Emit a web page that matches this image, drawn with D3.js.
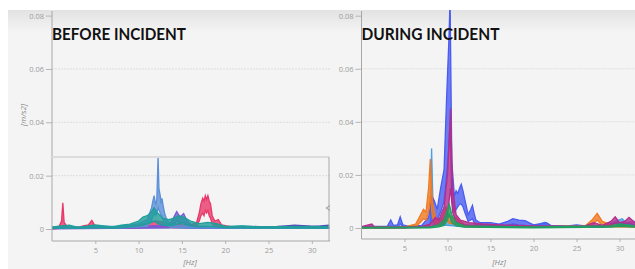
<!DOCTYPE html>
<html>
<head>
<meta charset="utf-8">
<script src="https://cdn.jsdelivr.net/npm/d3@7"></script>
<style>
  body { margin: 0; background: #fff; }
  svg { display: block; }
  .tick text { fill: #9c9c9c; font-family: "Open Sans", sans-serif; font-size: 7.5px; }
  .tick line { stroke: #b5b5b5; }
</style>
</head>
<body>
<div id="chart"></div>
<script>
// Tick values
var yTicks = [0, 0.02, 0.04, 0.06, 0.08];
var xTicks = [5, 10, 15, 20, 25, 30];

// BEFORE INCIDENT series: [Hz, low trace, high trace]
var beforeNavy = [[0,0.0002,0.0006],[2,0.0003,0.0007],[4,0.0002,0.0005],[6,0.0002,0.0006],[8,0.0003,0.0008],[10,0.0004,0.0010],[12,0.0004,0.0012],[14,0.0004,0.0010],[16,0.0003,0.0009],[18,0.0003,0.0008],[20,0.0003,0.0008],[22,0.0004,0.0010],[24,0.0004,0.0009],[26,0.0004,0.0010],[27,0.0005,0.0012],[28,0.0006,0.0014],[29,0.0006,0.0013],[30,0.0005,0.0011],[31,0.0005,0.0012],[32,0.0006,0.0014]];
var beforeRed = [[0,0,0.0005],[0.8,0.0002,0.0008],[1.1,0.0005,0.0030],[1.25,0.001,0.0098],[1.4,0.0005,0.0025],[1.8,0.0002,0.0006],[3,0.0002,0.0006],[3.6,0.0004,0.0012],[4.2,0.0005,0.0015],[4.6,0.001,0.0032],[5,0.0004,0.001],[6,0.0002,0.0005],[8,0.0002,0.0008],[10,0.0004,0.0015],[11,0.0008,0.0020],[12,0.0010,0.0030],[13,0.0008,0.0025],[14,0.0005,0.0020],[15,0.0006,0.0015],[16,0.0008,0.0015],[16.7,0.0010,0.0025],[17.0,0.0030,0.0060],[17.2,0.0050,0.0095],[17.4,0.0060,0.0115],[17.55,0.0050,0.0105],[17.7,0.0070,0.0125],[17.85,0.0060,0.0110],[18.0,0.0070,0.0125],[18.15,0.0050,0.0105],[18.3,0.0040,0.0095],[18.5,0.0020,0.0050],[18.8,0.0010,0.0030],[19.2,0.0010,0.0035],[19.6,0.0004,0.0015],[21,0.0002,0.0006],[25,0.0002,0.0005],[32,0.0002,0.0005]];
var beforePurple = [[0,0.0001,0.0004],[10,0.0003,0.0008],[13.5,0.0005,0.0015],[14.0,0.0015,0.0040],[14.4,0.0030,0.0065],[14.8,0.0020,0.0045],[15.2,0.0025,0.0058],[15.6,0.0010,0.0030],[16.2,0.0005,0.0012],[20,0.0002,0.0006],[32,0.0002,0.0005]];
var beforeBlue = [[0,0.0002,0.0005],[5,0.0004,0.0010],[8,0.0004,0.0010],[10,0.0008,0.0020],[11,0.0010,0.0035],[11.5,0.0030,0.0080],[11.65,0.0050,0.0105],[11.8,0.0060,0.0125],[11.95,0.0050,0.0090],[12.1,0.0060,0.0110],[12.25,0.0080,0.0272],[12.35,0.0070,0.0150],[12.5,0.0060,0.0125],[12.6,0.0050,0.0095],[12.7,0.0050,0.0115],[12.85,0.0030,0.0085],[13.0,0.0020,0.0060],[13.2,0.0015,0.0040],[13.6,0.0008,0.0020],[14,0.0006,0.0015],[16,0.0004,0.0010],[20,0.0003,0.0008],[32,0.0003,0.0006]];
var beforeTeal = [[0,0.0002,0.0008],[2,0.0004,0.0014],[3,0.0002,0.0006],[5,0.0005,0.0015],[7,0.0003,0.0008],[8,0.0005,0.0014],[9,0.0008,0.0018],[10,0.0012,0.0030],[10.5,0.0015,0.0045],[11,0.0020,0.0050],[11.5,0.0025,0.0065],[11.8,0.0030,0.0080],[12.2,0.0020,0.0060],[12.8,0.0015,0.0040],[13.5,0.0012,0.0035],[14,0.0015,0.0040],[14.6,0.0020,0.0050],[15.2,0.0018,0.0045],[16,0.0012,0.0030],[17,0.0008,0.0020],[18,0.0010,0.0025],[19,0.0008,0.0020],[20,0.0004,0.0010],[22,0.0004,0.0012],[24,0.0003,0.0008],[26,0.0003,0.0009],[28,0.0003,0.0008],[30,0.0003,0.0009],[32,0.0003,0.0008]];

// DURING INCIDENT series
var duringLightBlue = [[0,0,0.0003],[8,0.0002,0.0006],[8.15,0.0060,0.0300],[8.35,0.0010,0.0040],[10,0.0010,0.0030],[12,0.0004,0.0012],[20,0.0002,0.0006],[21.3,0.0008,0.0022],[22,0.0002,0.0006],[28,0.0002,0.0006],[30.3,0.0015,0.0035],[30.8,0.0008,0.0020],[31.8,0.0010,0.0025]];
var duringBlue = [[0,0,0.0004],[1,0.0002,0.0006],[3,0.0002,0.0006],[3.4,0.0008,0.0030],[3.7,0.0003,0.0010],[4.2,0.0004,0.0012],[4.5,0.0015,0.0042],[4.8,0.0005,0.0012],[5.5,0.0002,0.0006],[7,0.0004,0.0010],[7.8,0.0010,0.0040],[8.2,0.0030,0.0120],[8.5,0.0030,0.0100],[8.8,0.0030,0.0070],[9.2,0.0060,0.0150],[9.6,0.0100,0.0220],[9.9,0.0200,0.0495],[10.15,0.0300,0.0700],[10.3,0.0400,0.0860],[10.5,0.0100,0.0250],[10.8,0.0060,0.0120],[11.0,0.0070,0.0140],[11.2,0.0080,0.0130],[11.4,0.0090,0.0150],[11.6,0.0090,0.0165],[11.8,0.0080,0.0140],[12.0,0.0060,0.0110],[12.4,0.0025,0.0050],[12.7,0.0030,0.0070],[12.9,0.0035,0.0085],[13.1,0.0020,0.0055],[13.3,0.0010,0.0030],[13.8,0.0008,0.0020],[15,0.0008,0.0020],[16,0.0006,0.0015],[17,0.0010,0.0025],[17.6,0.0015,0.0035],[18.3,0.0012,0.0030],[19,0.0010,0.0028],[20,0.0005,0.0012],[21.5,0.0008,0.0020],[22,0.0004,0.0010],[24,0.0003,0.0008],[25,0.0005,0.0012],[26,0.0003,0.0008],[28,0.0004,0.0010],[30,0.0008,0.0020],[31.8,0.0005,0.0012]];
var duringOrange = [[0,0,0.0003],[5,0.0001,0.0004],[6.3,0.0005,0.0015],[6.8,0.0020,0.0045],[7.2,0.0035,0.0070],[7.5,0.0030,0.0060],[7.8,0.0060,0.0150],[8.0,0.0120,0.0260],[8.25,0.0040,0.0100],[8.6,0.0015,0.0040],[9.2,0.0010,0.0025],[9.8,0.0040,0.0080],[10.1,0.0020,0.0050],[10.6,0.0015,0.0040],[11,0.0020,0.0040],[11.5,0.0010,0.0025],[12,0.0005,0.0012],[14,0.0002,0.0006],[20,0.0002,0.0005],[26,0.0003,0.0008],[26.8,0.0010,0.0030],[27.4,0.0030,0.0055],[28,0.0010,0.0025],[29,0.0004,0.0012],[31.8,0.0003,0.0008]];
var duringMagenta = [[0,0.0001,0.0005],[1.2,0.0003,0.0015],[1.5,0.0001,0.0004],[5,0.0001,0.0004],[7,0.0002,0.0006],[8,0.0004,0.0015],[8.6,0.0010,0.0040],[9.0,0.0008,0.0030],[9.6,0.0020,0.0080],[10.0,0.0050,0.0200],[10.35,0.0150,0.0450],[10.6,0.0060,0.0150],[11.0,0.0020,0.0050],[11.5,0.0015,0.0030],[12.5,0.0008,0.0020],[14,0.0005,0.0015],[16,0.0004,0.0012],[20,0.0003,0.0008],[24,0.0002,0.0006],[26,0.0003,0.0008],[27,0.0008,0.0020],[28,0.0004,0.0010],[29,0.0010,0.0025],[29.5,0.0020,0.0042],[30,0.0008,0.0020],[30.6,0.0010,0.0025],[31.1,0.0020,0.0040],[31.8,0.0010,0.0020]];
var duringGreen = [[0,0,0.0002],[8,0.0001,0.0004],[9,0.0004,0.0012],[9.6,0.0010,0.0030],[10.0,0.0030,0.0070],[10.2,0.0050,0.0090],[10.5,0.0020,0.0050],[11,0.0008,0.0020],[12,0.0003,0.0008],[20,0.0001,0.0004],[29,0.0003,0.0008],[30,0.0006,0.0015],[31.8,0.0003,0.0008]];

var panels = [
  {
    id: "before", title: "BEFORE INCIDENT",
    left: 8, right: 330, axisX: 52, axisY: 241, zeroY: 229, topY: 15.6, maxHz: 32.1,
    hzLabelX: 190, titleW: 134, showYLabel: true,
    series: [
      {data: beforeNavy, color: "#4b56b5"},
      {data: beforeRed, color: "#e8386a"},
      {data: beforePurple, color: "#7a5ad8"},
      {data: beforeBlue, color: "#5b90d8"},
      {data: beforeTeal, color: "#1f9e9a"}
    ]
  },
  {
    id: "during", title: "DURING INCIDENT",
    left: 330, right: 635, axisX: 361.5, axisY: 239, zeroY: 228, topY: 15.7, maxHz: 31.8,
    hzLabelX: 499, titleW: 138, showYLabel: false,
    series: [
      {data: duringLightBlue, color: "#4aa0e8"},
      {data: duringBlue, color: "#4a5cf0"},
      {data: duringOrange, color: "#f07a22"},
      {data: duringMagenta, color: "#b32d8c"},
      {data: duringGreen, color: "#1ea060"}
    ]
  }
];

var svgWidth = 635;
var svgHeight = 269;

var svg = d3.select("#chart")
  .append("svg")
  .attr("width", svgWidth)
  .attr("height", svgHeight);

// top shadow gradient
var defs = svg.append("defs");
var grad = defs.append("linearGradient")
  .attr("id", "topShade")
  .attr("x1", 0).attr("y1", 0).attr("x2", 0).attr("y2", 1);
grad.append("stop").attr("offset", "0%").attr("stop-color", "#e2e2e2");
grad.append("stop").attr("offset", "100%").attr("stop-color", "#f4f4f4");

panels.forEach(function(p) {
  var g = svg.append("g").attr("class", p.id);

  // panel background
  g.append("rect")
    .attr("x", p.left).attr("y", 10)
    .attr("width", p.right - p.left).attr("height", svgHeight - 10)
    .attr("fill", "#f4f4f4");
  g.append("rect")
    .attr("x", p.left).attr("y", 10)
    .attr("width", p.right - p.left).attr("height", 22)
    .attr("fill", "url(#topShade)");

  var x = d3.scaleLinear().domain([0, p.maxHz]).range([p.axisX, p.right]);
  var y = d3.scaleLinear().domain([0, 0.08]).range([p.zeroY, p.topY]);

  // gridlines
  g.append("g")
    .selectAll("line")
    .data(yTicks.filter(d => d > 0 && d < 0.08))
    .enter()
    .append("line")
    .attr("x1", p.axisX).attr("x2", p.right)
    .attr("y1", d => y(d)).attr("y2", d => y(d))
    .attr("stroke", "#dedede")
    .attr("stroke-dasharray", "2,1");

  // clip for traces
  defs.append("clipPath").attr("id", "clip-" + p.id)
    .append("rect")
    .attr("x", p.axisX).attr("y", 10)
    .attr("width", p.right - p.axisX).attr("height", p.axisY - 10);

  var area = d3.area()
    .x(d => x(d[0]))
    .y0(d => y(d[1]))
    .y1(d => y(d[2]));
  var hiLine = d3.line().x(d => x(d[0])).y(d => y(d[2]));
  var loLine = d3.line().x(d => x(d[0])).y(d => y(d[1]));

  var traces = g.append("g").attr("clip-path", "url(#clip-" + p.id + ")");
  p.series.forEach(function(s) {
    traces.append("path")
      .datum(s.data)
      .attr("d", area)
      .attr("fill", s.color)
      .attr("opacity", 0.8);
    traces.append("path")
      .datum(s.data)
      .attr("d", hiLine)
      .attr("fill", "none")
      .attr("stroke", s.color)
      .attr("stroke-width", 1.3);
    traces.append("path")
      .datum(s.data)
      .attr("d", loLine)
      .attr("fill", "none")
      .attr("stroke", s.color)
      .attr("stroke-width", 1.3);
  });

  // y axis
  var leftAxis = d3.axisLeft(y)
    .tickValues(yTicks)
    .tickSize(6)
    .tickPadding(2)
    .tickFormat(d => d === 0 ? "0" : d.toFixed(2));
  var yAxisG = g.append("g")
    .attr("transform", `translate(${p.axisX}, 0)`)
    .call(leftAxis);
  yAxisG.select(".domain").remove();

  // x axis
  var bottomAxis = d3.axisBottom(x)
    .tickValues(xTicks)
    .tickSize(3)
    .tickPadding(4);
  var xAxisG = g.append("g")
    .attr("transform", `translate(0, ${p.axisY})`)
    .call(bottomAxis);
  xAxisG.select(".domain").remove();

  // axis lines
  g.append("line")
    .attr("x1", p.axisX).attr("x2", p.axisX)
    .attr("y1", 11).attr("y2", p.axisY)
    .attr("stroke", "#a8a8a8");
  g.append("line")
    .attr("x1", p.axisX).attr("x2", p.right)
    .attr("y1", p.axisY).attr("y2", p.axisY)
    .attr("stroke", "#a8a8a8");

  // axis titles
  g.append("text")
    .attr("x", p.hzLabelX).attr("y", 265)
    .attr("text-anchor", "middle")
    .style("font-family", "'Open Sans', sans-serif")
    .style("font-style", "italic")
    .style("font-size", "8px")
    .style("fill", "#8a8a8a")
    .text("[Hz]");

  if (p.showYLabel) {
    g.append("text")
      .attr("transform", "translate(26, 115) rotate(-90)")
      .attr("text-anchor", "middle")
      .style("font-family", "'Open Sans', sans-serif")
      .style("font-style", "italic")
      .style("font-size", "8px")
      .style("fill", "#8a8a8a")
      .text("[m/s2]");
  }

  // chart title
  g.append("text")
    .attr("x", p.axisX).attr("y", 40)
    .attr("textLength", p.titleW)
    .attr("lengthAdjust", "spacingAndGlyphs")
    .style("font-family", "Lato, 'Open Sans', sans-serif")
    .style("font-weight", "bold")
    .style("font-size", "17px")
    .style("fill", "#111")
    .text(p.title);
});

// selection overlay left over in the BEFORE panel
var before = svg.select(".before");
before.append("line")
  .attr("x1", 52).attr("x2", 329)
  .attr("y1", 157).attr("y2", 157)
  .attr("stroke", "#dcdcdc").attr("stroke-width", 2);
before.append("line")
  .attr("x1", 329).attr("x2", 329)
  .attr("y1", 157).attr("y2", 241)
  .attr("stroke", "#a8a8a8");
before.append("path")
  .attr("d", "M331,205 L326,208 L331,211")
  .attr("fill", "none").attr("stroke", "#999");
</script>
</body>
</html>
